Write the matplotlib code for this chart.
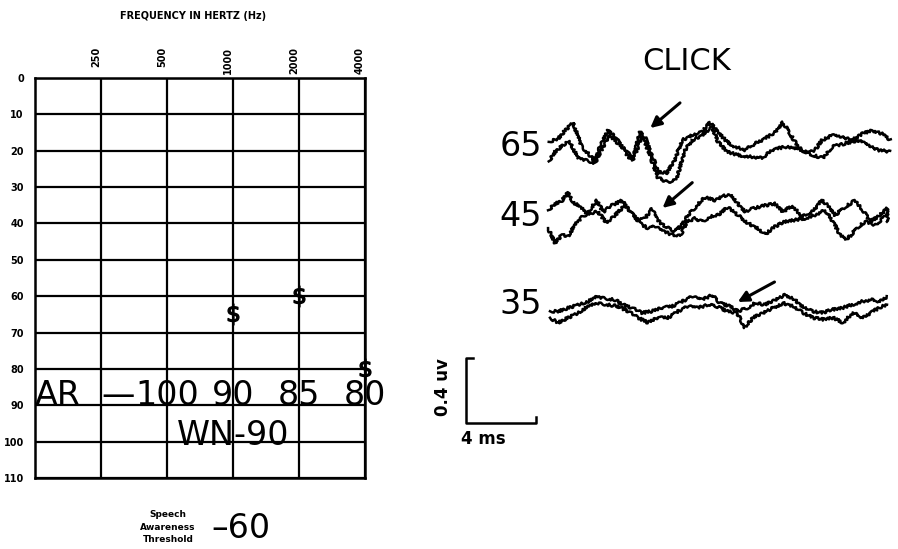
import matplotlib
matplotlib.use("Agg")
import matplotlib.pyplot as plt
import matplotlib.transforms as mtransforms
from matplotlib.ticker import NullLocator

# ---- audiogram data ----
freqs = [250, 500, 1000, 2000, 4000]
freq_labels = ["250", "500", "1000", "2000", "4000"]
db_ticks = list(range(0, 111, 10))
sat_freqs = [1000, 2000, 4000]
sat_db = [65, 60, 80]
ar_labels = ["\u2014", "100", "90", "85", "80"]
ar_level = 90
wn_label = "WN-90"
wn_level = 101
speech_awareness = "\u201360"

# ---- ABR traces (time in ms, amplitude in uV), two replications per level ----
levels = ["65", "45", "35"]

t65_a = [0.1, 0.63, 1.03, 1.49, 1.71, 2.0, 2.34, 2.74, 3.03, 3.49, 3.89, 4.29, 4.63, 4.91, 5.31,
         5.6, 6.0, 6.46, 6.86, 7.31, 7.71, 8.29, 8.86, 9.31, 9.77, 10.29, 10.74, 11.31, 11.89,
         12.46, 13.03, 13.49, 13.89, 14.34, 14.91, 15.31, 15.71, 16.29, 16.86, 17.43, 18.0,
         18.57, 19.14, 19.6]
v65_a = [0.05, 0.07, 0.12, 0.17, 0.10, 0.02, -0.02, -0.07, 0.02, 0.12, 0.08, 0.02, -0.04, -0.06,
         0.11, 0.08, -0.04, -0.14, -0.14, -0.06, 0.06, 0.09, 0.11, 0.17, 0.11, 0.05, 0.02, 0.0,
         0.04, 0.07, 0.11, 0.17, 0.10, 0.02, -0.02, 0.0, 0.06, 0.09, 0.08, 0.06, 0.10, 0.12,
         0.10, 0.06]
t65_b = [0.1, 0.46, 1.03, 1.31, 1.77, 2.17, 2.74, 3.2, 3.6, 4.06, 4.57, 4.91, 5.43, 5.77, 6.34,
         6.91, 7.43, 7.89, 8.29, 8.86, 9.43, 9.77, 10.29, 10.86, 11.49, 12.29, 12.86, 13.6,
         14.34, 15.14, 15.77, 16.29, 17.03, 17.77, 18.34, 18.91, 19.6]
v65_b = [-0.07, -0.01, 0.04, 0.05, -0.05, -0.06, -0.08, 0.02, 0.09, 0.04, -0.01, -0.06, 0.08,
         0.0, -0.17, -0.20, -0.17, 0.0, 0.06, 0.09, 0.14, 0.05, -0.01, -0.03, -0.04, -0.05,
         0.0, 0.02, 0.01, -0.03, -0.05, 0.02, 0.04, 0.06, 0.03, 0.0, -0.01]

t45_a = [0.06, 0.46, 0.86, 1.2, 1.49, 1.89, 2.29, 2.63, 2.86, 3.2, 3.71, 4.29, 4.74, 5.2, 5.6,
         6.0, 6.29, 6.74, 7.31, 7.71, 8.06, 8.57, 9.03, 9.6, 10.06, 10.57, 10.91, 11.31, 11.77,
         12.46, 13.03, 13.49, 14.0, 14.57, 15.14, 15.71, 16.06, 16.46, 17.03, 17.6, 18.06,
         18.46, 18.91, 19.43, 19.49]
v45_a = [0.06, 0.10, 0.12, 0.17, 0.11, 0.08, 0.04, 0.09, 0.12, 0.05, 0.09, 0.12, 0.05, 0.0,
         0.01, 0.07, 0.0, -0.04, -0.07, -0.03, 0.03, 0.09, 0.14, 0.12, 0.15, 0.15, 0.10, 0.05,
         0.07, 0.09, 0.10, 0.05, 0.09, 0.02, 0.05, 0.12, 0.09, 0.03, 0.08, 0.12, 0.06, -0.01,
         0.02, 0.07, -0.01]
t45_b = [0.06, 0.46, 0.86, 1.2, 1.6, 2.0, 2.34, 2.91, 3.43, 3.89, 4.46, 4.91, 5.43, 5.77, 6.17,
         6.63, 7.14, 7.6, 8.0, 8.46, 8.86, 9.31, 9.77, 10.34, 10.91, 11.49, 12.0, 12.46, 13.03,
         13.6, 14.17, 14.74, 15.31, 15.89, 16.34, 16.74, 17.14, 17.71, 18.17, 18.74, 19.2, 19.49]
v45_b = [-0.05, -0.14, -0.09, -0.10, -0.03, 0.02, 0.04, 0.05, -0.02, 0.03, 0.09, 0.03, -0.03,
         -0.05, -0.04, -0.07, -0.09, -0.10, -0.01, 0.01, -0.01, 0.02, 0.03, 0.08, 0.03, -0.02,
         -0.05, -0.09, -0.04, -0.01, 0.0, 0.01, 0.03, 0.06, -0.01, -0.09, -0.12, -0.05, -0.01,
         -0.03, 0.01, 0.04]

t35_a = [0.17, 0.63, 1.2, 1.77, 2.34, 2.86, 3.31, 3.89, 4.34, 4.86, 5.43, 6.0, 6.57, 7.14, 7.71,
         8.29, 8.86, 9.43, 9.89, 10.46, 10.91, 11.43, 11.89, 12.46, 13.03, 13.6, 14.06, 14.57,
         15.14, 15.71, 16.29, 16.86, 17.43, 18.0, 18.57, 19.03, 19.43]
v35_a = [-0.02, -0.02, 0.0, 0.02, 0.04, 0.07, 0.06, 0.05, 0.02, 0.0, -0.03, -0.02, 0.0, 0.01,
         0.04, 0.07, 0.05, 0.08, 0.03, 0.01, -0.02, 0.0, 0.03, 0.02, 0.05, 0.08, 0.06, 0.01,
         -0.02, -0.03, -0.01, 0.0, 0.02, 0.04, 0.05, 0.04, 0.07]
t35_b = [0.17, 0.63, 1.2, 1.77, 2.34, 2.91, 3.49, 4.06, 4.63, 5.2, 5.77, 6.34, 6.91, 7.49, 8.06,
         8.63, 9.2, 9.71, 10.29, 10.86, 11.31, 11.77, 12.34, 12.91, 13.49, 14.06, 14.63, 15.2,
         15.77, 16.34, 16.91, 17.49, 18.06, 18.63, 19.14, 19.43]
v35_b = [-0.06, -0.09, -0.06, -0.03, 0.01, 0.03, 0.02, 0.01, -0.02, -0.06, -0.09, -0.06, -0.06,
         -0.02, 0.01, 0.0, 0.02, 0.01, -0.02, -0.03, -0.12, -0.06, -0.03, 0.0, 0.03, 0.01,
         -0.03, -0.06, -0.07, -0.06, -0.09, -0.03, -0.06, -0.02, 0.01, 0.02]

traces = {"65": (t65_a, v65_a, t65_b, v65_b),
          "45": (t45_a, v45_a, t45_b, v45_b),
          "35": (t35_a, v35_a, t35_b, v35_b)}
# wave V arrows: (tip latency ms, tip uV, tail ms, tail uV)
wave_v = {"65": (5.9, 0.135, 7.6, 0.29),
          "45": (6.6, 0.074, 8.3, 0.23),
          "35": (10.9, 0.037, 13.0, 0.16)}
scale_ms = 4
scale_uv = 0.4

W, H = 898, 549
fig = plt.figure(figsize=(W / 100, H / 100), dpi=100)


def px_axes(x0, y0, x1, y1):
    return fig.add_axes([x0 / W, 1 - y1 / H, (x1 - x0) / W, (y1 - y0) / H])


big = dict(fontsize=24, family="DejaVu Sans", color="k")
small_bold = dict(fontsize=7, weight="bold", color="k")

# ---- audiogram ----
ax = px_axes(35, 78, 365, 478)
ax.set_xscale("log", base=2)
ax.set_xlim(125, 4000)
ax.set_ylim(110, 0)
ax.set_xticks(freqs)
ax.set_xticklabels([])
ax.xaxis.set_minor_locator(NullLocator())
ax.set_yticks(db_ticks)
ax.set_yticklabels([str(d) for d in db_ticks], **small_bold)
ax.tick_params(length=0, pad=8)
ax.grid(True, color="k", lw=1.6)
for s in ax.spines.values():
    s.set_linewidth(1.8)

trans = mtransforms.blended_transform_factory(ax.transData, ax.transAxes)
for f, lab in zip(freqs, freq_labels):
    ax.text(f, 1.0775, lab, rotation=90, ha="right", va="top", transform=trans, **small_bold)

fig.text(193 / W, 1 - 16 / H, "FREQUENCY IN HERTZ (Hz)", ha="center", va="center", **small_bold)

ax.plot(sat_freqs, sat_db, ls="none", marker=r"$\$$", ms=15, color="k", clip_on=False)

ax.text(125, ar_level, "AR", ha="left", va="baseline", **big)
for f, lab in zip(freqs, ar_labels):
    ax.text(f, ar_level, lab, ha="left" if lab == "\u2014" else "center", va="baseline", **big)
ax.text(1000, wn_level, wn_label, ha="center", va="baseline", **big)

fig.text(168 / W, 1 - 527 / H, "Speech\nAwareness\nThreshold", ha="center", va="center",
         fontsize=6.5, weight="bold", linespacing=1.45)
fig.text(211 / W, 1 - 528 / H, speech_awareness, ha="left", va="center", **big)

# ---- ABR traces ----
fig.text(687 / W, 1 - 62 / H, "CLICK", ha="center", va="center", fontsize=22)

centres = {"65": 150, "45": 220, "35": 308}
for lev in levels:
    c = centres[lev]
    wa = px_axes(547, c - 0.3 * 162.5, 897, c + 0.3 * 162.5)
    wa.set_xlim(0, 20)
    wa.set_ylim(-0.3, 0.3)
    wa.axis("off")
    ta, va, tb, vb = traces[lev]
    for t, v in ((ta, va), (tb, vb)):
        ln, = wa.plot(t, v, color="k", lw=1.8, clip_on=False)
        ln.set_sketch_params(scale=1.3, length=3, randomness=6)
    wa.text(-0.3, 0.02, lev, ha="right", va="center", **big)
    tip_t, tip_v, tail_t, tail_v = wave_v[lev]
    wa.annotate("", xy=(tip_t, tip_v), xytext=(tail_t, tail_v), annotation_clip=False,
                arrowprops=dict(arrowstyle="-|>", lw=2.2, color="k", mutation_scale=16,
                                shrinkA=0, shrinkB=0))

# ---- scale bar ----
sb = px_axes(466, 358, 536, 423)
sb.set_xlim(0, scale_ms)
sb.set_ylim(0, scale_uv)
sb.axis("off")
sb.plot([0.1 * scale_ms, 0, 0, scale_ms, scale_ms], [scale_uv, scale_uv, 0, 0, 0.1 * scale_uv],
        color="k", lw=1.8, clip_on=False)
sb.text(1.0, -0.1, "%d ms" % scale_ms, ha="center", va="center", fontsize=12, weight="bold")
sb.text(-1.3, 0.22, "%.1f uv" % scale_uv, rotation=90, ha="center", va="center",
        fontsize=12, weight="bold")

fig.savefig("out.png", dpi=100)
